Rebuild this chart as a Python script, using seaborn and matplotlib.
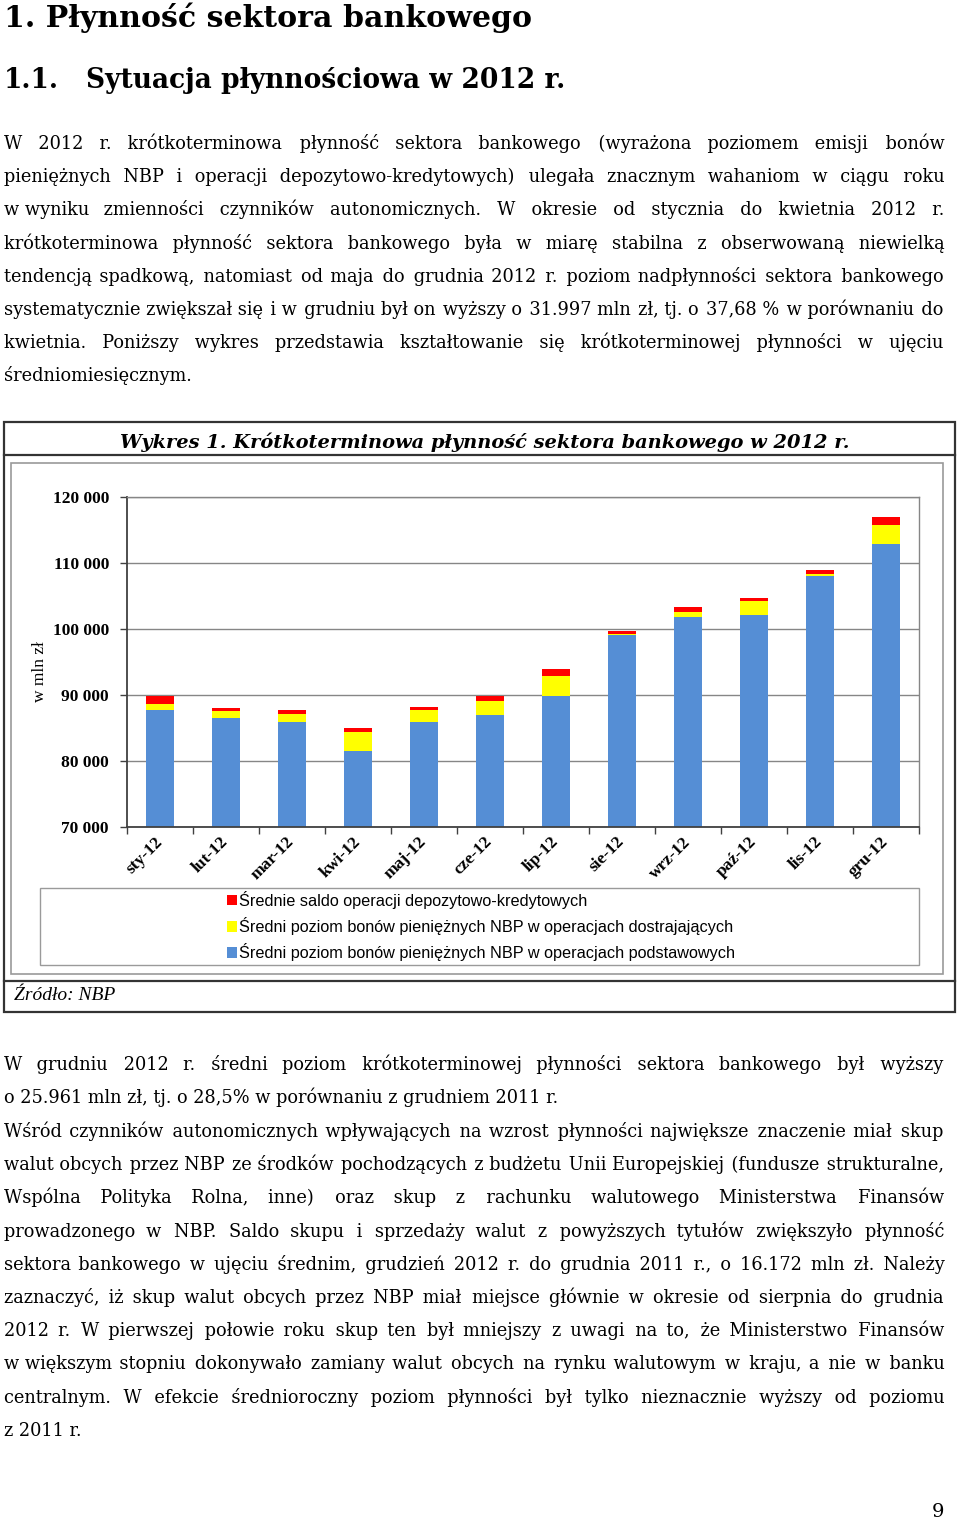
import numpy as np
import pandas as pd
import matplotlib
matplotlib.use("Agg")
import matplotlib.pyplot as plt
import seaborn as sns
from matplotlib.patches import Rectangle, Patch
from matplotlib.lines import Line2D
from matplotlib.font_manager import FontProperties, findfont
from matplotlib.ft2font import FT2Font

# --- data (mln zł) ---
months = ["sty-12", "lut-12", "mar-12", "kwi-12", "maj-12", "cze-12",
          "lip-12", "sie-12", "wrz-12", "paź-12", "lis-12", "gru-12"]
basic = [87700, 86500, 85860, 81570, 85860, 86970, 89900, 99040, 101870, 102120, 108080, 112930]
fine_tuning = [900, 1050, 1260, 2780, 1870, 2170, 2930, 250, 710, 2070, 250, 2880]
deposit_credit = [1300, 500, 560, 710, 500, 760, 1060, 350, 760, 560, 560, 1210]
series_labels = ["Średnie saldo operacji depozytowo-kredytowych",
                 "Średni poziom bonów pieniężnych NBP w operacjach dostrajających",
                 "Średni poziom bonów pieniężnych NBP w operacjach podstawowych"]
yticks = [70000, 80000, 90000, 100000, 110000, 120000]

heading1 = "1. Płynność sektora bankowego"
heading2_num = "1.1."
heading2 = "Sytuacja płynnościowa w 2012 r."
chart_title = "Wykres 1. Krótkoterminowa płynność sektora bankowego w 2012 r."
source = "Źródło: NBP"
ylabel = "w mln zł"

para1 = [
    "W 2012 r. krótkoterminowa płynność sektora bankowego (wyrażona poziomem emisji bonów",
    "pieniężnych NBP i operacji depozytowo-kredytowych) ulegała znacznym wahaniom w ciągu roku",
    "w\u00a0wyniku zmienności czynników autonomicznych. W okresie od stycznia do kwietnia 2012 r.",
    "krótkoterminowa płynność sektora bankowego była w miarę stabilna z obserwowaną niewielką",
    "tendencją spadkową, natomiast od maja do grudnia 2012 r. poziom nadpłynności sektora bankowego",
    "systematycznie zwiększał się i w grudniu był on wyższy o 31.997 mln zł, tj. o 37,68 % w porównaniu do",
    "kwietnia. Poniższy wykres przedstawia kształtowanie się krótkoterminowej płynności w ujęciu",
    "średniomiesięcznym.",
]
para2 = [
    "W grudniu 2012 r. średni poziom krótkoterminowej płynności sektora bankowego był wyższy",
    "o 25.961 mln zł, tj. o 28,5% w porównaniu z grudniem 2011 r.",
]
para3 = [
    "Wśród czynników autonomicznych wpływających na wzrost płynności największe znaczenie miał skup",
    "walut obcych przez NBP ze środków pochodzących z budżetu Unii Europejskiej (fundusze strukturalne,",
    "Wspólna Polityka Rolna, inne) oraz skup z rachunku walutowego Ministerstwa Finansów",
    "prowadzonego w NBP. Saldo skupu i sprzedaży walut z powyższych tytułów zwiększyło płynność",
    "sektora bankowego w ujęciu średnim, grudzień 2012 r. do grudnia 2011 r., o 16.172 mln zł. Należy",
    "zaznaczyć, iż skup walut obcych przez NBP miał miejsce głównie w okresie od sierpnia do grudnia",
    "2012 r. W pierwszej połowie roku skup ten był mniejszy z uwagi na to, że Ministerstwo Finansów",
    "w\u00a0większym stopniu dokonywało zamiany walut obcych na rynku walutowym w kraju, a nie w banku",
    "centralnym. W efekcie średnioroczny poziom płynności był tylko nieznacznie wyższy od poziomu",
    "z 2011 r.",
]

RED, YEL, BLUE = "#FF0000", "#FFFF00", "#558ED5"
SERIF = "DejaVu Serif"
HAIR = "\u200a"
W, H = 960, 1522

fig = plt.figure(figsize=(W / 100, H / 100), dpi=100)
fig.patch.set_facecolor("white")
renderer = fig.canvas.get_renderer()


def fx(x):
    return x / W


def fy(y):
    return 1 - y / H


def width_of(s, **kw):
    t = fig.text(0, 0, s, **kw)
    w = t.get_window_extent(renderer=renderer).width
    t.remove()
    return w


def fit_size(s, target, **kw):
    return 10 * target / width_of(s, size=10, **kw)


def hline(x0, x1, y, **kw):
    fig.add_artist(Line2D([fx(x0), fx(x1)], [fy(y), fy(y)], transform=fig.transFigure, **kw))


def box(x0, y0, x1, y1, **kw):
    fig.add_artist(Rectangle((fx(x0), fy(y1)), fx(x1) - fx(x0), fy(y0) - fy(y1),
                             transform=fig.transFigure, fill=False, **kw))


# --- headings ---
s1 = fit_size(heading1, 530, family=SERIF, weight="bold")
fig.text(fx(4), fy(27), heading1, family=SERIF, weight="bold", size=s1, va="baseline")
s2 = fit_size(heading2, 481, family=SERIF, weight="bold")
fig.text(fx(4), fy(88), heading2_num, family=SERIF, weight="bold", size=s2, va="baseline")
fig.text(fx(86), fy(88), heading2, family=SERIF, weight="bold", size=s2, va="baseline")

# --- body text, justified ---
LEFT, RIGHT = 4, 944
TW = RIGHT - LEFT
PITCH = 33.2
paras = [(para1, 143), (para2, 1064), (para3, 1131)]
just_lines = [ln for p, _ in paras for ln in p[:-1]]
body_size = min(min(fit_size(ln, TW, family=SERIF) for ln in just_lines) * 0.995, 13.5)

has_hair = 0x200A in FT2Font(findfont(FontProperties(family=SERIF))).get_charmap()
hair_w = 0
if has_hair:
    hair_w = (width_of("x" + HAIR * 40 + "x", family=SERIF, size=body_size)
              - width_of("xx", family=SERIF, size=body_size)) / 40
    has_hair = hair_w > 0.3


def build_line(words, k):
    n = len(words) - 1
    out = words[0]
    for i in range(n):
        extra = (i + 1) * k // n - i * k // n
        out += " " + HAIR * extra + words[i + 1]
    return out


def draw_line(line, y, justify):
    if not justify:
        fig.text(fx(LEFT), fy(y), line, family=SERIF, size=body_size, va="baseline")
        return
    words = line.split(" ")
    if has_hair:
        k = max(0, int(round((TW - width_of(line, family=SERIF, size=body_size)) / hair_w)))
        s = build_line(words, k)
        # one correction pass
        diff = TW - width_of(s, family=SERIF, size=body_size)
        k = max(0, k + int(round(diff / hair_w)))
        s = build_line(words, k)
        fig.text(fx(LEFT), fy(y), s, family=SERIF, size=body_size, va="baseline")
        return
    widths = [width_of(w_, family=SERIF, size=body_size) for w_ in words]
    gap = (TW - sum(widths)) / (len(words) - 1)
    x = LEFT
    for w_, wd in zip(words, widths):
        fig.text(fx(x), fy(y), w_, family=SERIF, size=body_size, va="baseline")
        x += wd + gap


for lines, y0 in paras:
    for i, ln in enumerate(lines):
        draw_line(ln, y0 + i * PITCH + 6, i < len(lines) - 1)

# --- chart frame ---
box(4, 422, 955, 1012, lw=1.6, edgecolor="#333333")
hline(4, 955, 455, lw=1.6, color="#333333")
hline(4, 955, 981, lw=1.6, color="#333333")
box(11, 463, 943, 974, lw=1.2, edgecolor="#9a9a9a")
box(40, 888, 919, 965, lw=1.0, edgecolor="#9a9a9a")

st = fit_size(chart_title, 731, family=SERIF, weight="bold", style="italic")
fig.text(fx(485), fy(448), chart_title, family=SERIF, weight="bold", style="italic",
         size=st, ha="center", va="baseline")
fig.text(fx(14), fy(996), source, family="Liberation Serif", style="italic", size=14,
         va="center")
fig.text(fx(40), fy(672), ylabel, family="Liberation Serif", size=12.5, rotation=90,
         ha="center", va="center")
fig.text(fx(944), fy(1512), "9", family=SERIF, size=14, ha="right", va="center")

# --- bar chart ---
ax = fig.add_axes([fx(127), fy(827), fx(919) - fx(127), fy(497) - fy(827)])
b = np.array(basic)
mid = b + np.array(fine_tuning)
total = mid + np.array(deposit_credit)
df = pd.DataFrame({"miesiac": months, "razem": total, "posrednie": mid, "podstawowe": b})
for col, c in [("razem", RED), ("posrednie", YEL), ("podstawowe", BLUE)]:
    sns.barplot(data=df, x="miesiac", y=col, color=c, saturation=1, width=0.43,
                linewidth=0, errorbar=None, ax=ax)

ax.set_xlim(-0.5, 11.5)
ax.set_ylim(70000, 120000)
ax.set_xlabel("")
ax.set_ylabel("")
ax.set_yticks(yticks)
ax.set_yticklabels([f"{v:,}".replace(",", " ") for v in yticks])
ax.grid(axis="y", color="#868686", lw=1.0)
ax.set_axisbelow(True)
for side in ["left", "bottom"]:
    ax.spines[side].set_color("#404040")
    ax.spines[side].set_linewidth(1.3)
for side in ["top", "right"]:
    ax.spines[side].set_color("#868686")
    ax.spines[side].set_linewidth(1.0)

ax.set_xticks(range(len(months)))
ax.set_xticks(np.arange(-0.5, len(months), 1), minor=True)
ax.tick_params(axis="x", which="major", length=0, pad=9)
ax.tick_params(axis="x", which="minor", length=5, color="#404040", width=1)
ax.tick_params(axis="y", which="major", length=5, color="#404040", width=1, pad=8)
for lab in ax.get_xticklabels():
    lab.set_rotation(45)
    lab.set_ha("right")
    lab.set_va("center")
    lab.set_rotation_mode("anchor")
    lab.set_family("Liberation Serif")
    lab.set_weight("bold")
    lab.set_size(12.5)
for lab in ax.get_yticklabels():
    lab.set_family("Liberation Serif")
    lab.set_weight("bold")
    lab.set_size(12.5)

handles = [Patch(facecolor=c, edgecolor="none") for c in (RED, YEL, BLUE)]
fig.legend(handles, series_labels, loc="center", bbox_to_anchor=(fx(481), fy(926)),
           frameon=False, prop={"family": "Liberation Sans", "size": 11.7},
           handlelength=0.62, handleheight=0.62, handletextpad=0.15,
           labelspacing=0.5, borderpad=0)

fig.savefig("out.png", dpi=100)
